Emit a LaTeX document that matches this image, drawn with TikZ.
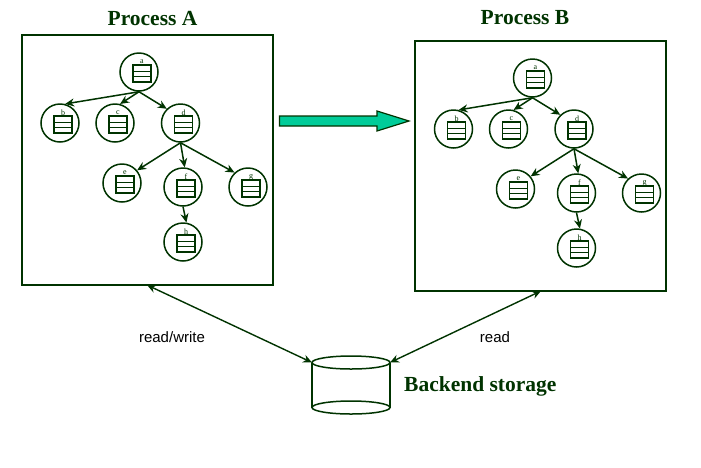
\documentclass[tikz,border=0pt]{standalone}
\usepackage{fontspec}
\setmainfont{Liberation Serif}
\newfontfamily\labelfont{Liberation Sans}
\usetikzlibrary{arrows.meta}
\definecolor{dkgreen}{HTML}{003300}
\definecolor{teal}{HTML}{00CC99}
\tikzset{
  x=1pt,y=-1pt,
  line/.style={draw=dkgreen,line width=1.5pt},
  procbox/.style={line,minimum width=251pt,minimum height=250pt,inner sep=0pt},
  task/.style={circle,line,minimum size=38pt,inner sep=0pt},
  taskletter/.style={text=dkgreen,font=\fontsize{8}{8}\selectfont,inner sep=0pt},
  icon/.style={line width=1.2pt,draw=dkgreen},
  link/.style={draw=dkgreen,line width=1.5pt,-{Stealth[length=9pt,width=8pt]}},
  dlink/.style={draw=dkgreen,line width=1.4pt,{Stealth[length=9pt,width=8pt]}-{Stealth[length=9pt,width=8pt]}},
  title/.style={text=dkgreen,font=\bfseries\fontsize{21.5}{24}\selectfont,inner sep=0pt},
  note/.style={text=black,font=\labelfont\fontsize{15}{18}\selectfont,inner sep=0pt},
}
\newcommand{\tasknode}[4]{% prefix, letter, x, y
  \node[task] (#1-#2) at (#3,#4) {};
  \draw[icon] (#3+-6,#4+-7) rectangle (#3+12,#4+10);
  \draw[icon,line width=0.9pt] (#3+-6,#4+-1) -- (#3+12,#4+-1);
  \draw[icon,line width=1.7pt] (#3+-6,#4+4.5) -- (#3+12,#4+4.5);
  \node[taskletter] (#1-#2-t) at (#3+3,#4+-10) {#2};
}
\newcommand{\tasktree}[3]{% prefix, dx, dy
  \begin{scope}[shift={(#2,#3)}]
    \tasknode{#1}{a}{139}{72}
    \tasknode{#1}{b}{60}{123}
    \tasknode{#1}{c}{115}{123}
    \tasknode{#1}{d}{180.5}{123}
    \tasknode{#1}{e}{122}{183}
    \tasknode{#1}{f}{183}{187}
    \tasknode{#1}{g}{248}{187}
    \tasknode{#1}{h}{183}{242}
  \end{scope}
  \draw[link] (#1-a.south) -- (#1-b.75);
  \draw[link] (#1-a.south) -- (#1-c.75);
  \draw[link] (#1-a.south) -- (#1-d.134);
  \draw[link] (#1-d.south) -- (#1-e.40);
  \draw[link] (#1-d.south) -- (#1-f.85);
  \draw[link] (#1-d.south) -- (#1-g.133);
  \draw[link] (#1-f.south) -- (#1-h.80);
}
\begin{document}
\begin{tikzpicture}
\useasboundingbox (0,0) rectangle (701,467);
\node[procbox] (boxA) at (147.5,160) {};
\node[procbox] (boxB) at (540.5,166) {};
\node[title] (titleA) at (152.5,19) {Process A};
\node[title] (titleB) at (525,18) {Process B};
\tasktree{A}{0}{0}
\tasktree{B}{393.5}{6}
% transfer arrow
\draw[line,fill=teal,line width=1.2pt] (279.5,116) -- (377,116) -- (377,111) -- (409,121) -- (377,131) -- (377,126) -- (279.5,126) -- cycle;
% storage
\coordinate (cylL) at (312,362.5);
\coordinate (cylR) at (390,362.5);
\coordinate (cylLb) at (312,407.5);
\coordinate (cylRb) at (390,407.5);
\coordinate (cylC) at (351,362.5);
\coordinate (cylCb) at (351,407.5);
\draw[line] (cylC) ellipse [x radius=39,y radius=6.5];
\draw[line] (cylCb) ellipse [x radius=39,y radius=6.5];
\draw[line] (cylL) -- (cylLb);
\draw[line] (cylR) -- (cylRb);
\coordinate (portA) at (147,285);
\coordinate (portB) at (541,291);
\draw[dlink] (portA) -- (cylL);
\draw[dlink] (portB) -- (cylR);
\node[note] (rw) at (172,337) {read/write};
\node[note] (rd) at (495,337) {read};
\node[title,anchor=west] (store) at (404,386) {Backend storage};
\end{tikzpicture}
\end{document}
